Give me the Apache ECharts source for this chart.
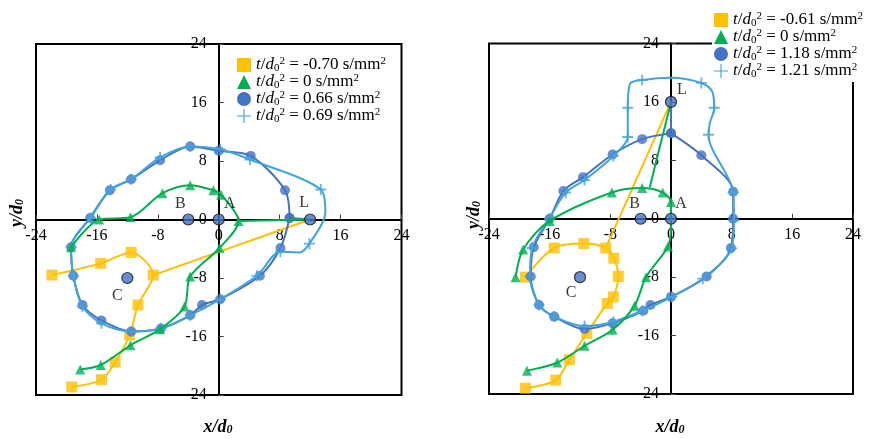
<!DOCTYPE html>
<html>
<head>
<meta charset="utf-8">
<script src="https://cdn.jsdelivr.net/npm/echarts@6/dist/echarts.min.js"></script>
<style>
  html, body { margin: 0; padding: 0; background: #fff; }
  #chart { width: 870px; height: 439px; }
</style>
</head>
<body>
<div id="chart"></div>
<script>
// ---- axis range shared by both panels ----
const axisMin = -24;
const axisMax = 24;
const axisStep = 8;

// ---- left panel: t/d0^2 values shown in the legend ----
const leftLegendValues = ['-0.70', '0', '0.66', '0.69'];

// drop trajectories (x/d0, y/d0)
const leftOrange = [[-21.9, -7.6], [-15.5, -6.0], [-11.5, -4.5], [-8.6, -7.6], [-10.6, -11.7],
  [-11.7, -15.8], [-13.6, -19.5], [-15.4, -21.9], [-19.3, -22.9]];
const leftOrangeLink = [[12, 0], [-8.6, -7.6]];

const leftGreen = [[-19.4, -3.8], [-15.7, 0], [-11.6, 0.3], [-7.4, 3.6], [-3.75, 4.7], [-0.7, 4.0],
  [0.3, 3.4], [2.6, -0.2], [0.1, -3.9], [-3.75, -7.8], [-4.5, -11.9], [-7.7, -15.0],
  [-11.6, -17.2], [-15.5, -19.9], [-18.2, -20.5]];
const leftGreenLink = [[2.6, -0.2], [12, 0]];

const leftBlue = [[9.3, 0.2], [8.7, 4.0], [4.2, 8.7], [0, 9.4], [-3.75, 10.0], [-7.7, 8.1],
  [-11.5, 5.5], [-14.3, 4.0], [-16.9, 0.2], [-19.4, -3.8], [-19.1, -7.7], [-17.9, -11.7],
  [-15.4, -13.8], [-11.5, -15.3], [-7.6, -14.9], [-3.75, -13.1], [-2.2, -11.7], [0.2, -10.9],
  [5.4, -7.7], [8.1, -3.9], [9.3, 0.2]];
const leftBlueLink = [[9.3, 0.2], [12, 0]];

const leftCyan = [[-16.8, 0.2], [-14.2, 4.1], [-11.5, 5.5], [-7.7, 8.5], [-3.75, 10.0], [0.2, 9.6],
  [4.1, 8.2], [13.4, 4.1], [11.9, -3.3], [8.1, -4.4], [5.0, -7.7], [0.2, -10.9], [-3.75, -13.1],
  [-7.6, -14.9], [-11.5, -15.3], [-15.4, -14.2], [-17.9, -11.9], [-19.1, -7.7], [-19.4, -3.8]];
const leftCyanPath = [[-16.8, 0.2], [-14.2, 4.1], [-11.5, 5.5], [-7.7, 8.5], [-3.75, 10.0], [0.2, 9.6],
  [4.1, 8.2], [13.4, 4.1], [14.0, 1.0], [11.9, -3.3], [10.6, -4.5], [8.1, -4.4], [5.0, -7.7],
  [0.2, -10.9], [-3.75, -13.1], [-7.6, -14.9], [-11.5, -15.3], [-15.4, -14.2], [-17.9, -11.9],
  [-19.1, -7.7], [-19.4, -3.8], [-16.8, 0.2]];

const leftMarks = [['A', 0, 0], ['B', -4, 0], ['C', -12, -8], ['L', 12, 0]];

// ---- right panel ----
const rightLegendValues = ['-0.61', '0', '1.18', '1.21'];

const rightOrange = [[-19.2, -8.0], [-15.4, -4.0], [-11.5, -3.4], [-8.6, -4.0], [-7.55, -5.4],
  [-6.95, -7.9], [-7.6, -10.7], [-8.4, -11.6], [-11.1, -15.7], [-13.4, -19.3], [-15.2, -22.1],
  [-19.2, -23.2]];
const rightOrangeLink = [[0, 16], [-8.6, -4.0]];

const rightGreen = [[-20.5, -8.0], [-19.5, -4.2], [-16.0, -0.3], [-7.8, 3.6], [-3.8, 4.2],
  [-1.1, 3.6], [0, 2.3], [-0.4, -3.8], [-3.3, -8.0], [-4.8, -11.9], [-7.7, -15.2],
  [-11.4, -17.4], [-15.0, -19.7], [-19.0, -20.8]];
const rightGreenPath = [[-20.5, -8.0], [-19.5, -4.2], [-16.0, -0.3], [-7.8, 3.6], [-3.8, 4.2],
  [-1.1, 3.6], [0, 2.3], [0, -1.0], [-0.4, -3.8], [-3.3, -8.0], [-4.8, -11.9], [-7.7, -15.2],
  [-11.4, -17.4], [-15.0, -19.7], [-19.0, -20.8]];
const rightGreenLink = [[0, 16], [-2.8, 4.3]];

const rightBlue = [[0, 11.7], [4.0, 8.7], [8.2, 3.7], [8.2, 0], [7.9, -4.0], [4.7, -7.9],
  [0, -10.7], [-2.7, -11.8], [-3.65, -12.6], [-7.7, -14.3], [-11.4, -15.1], [-15.4, -13.4],
  [-17.4, -11.8], [-18.5, -7.9], [-18.1, -3.9], [-16.0, 0], [-14.2, 3.8], [-11.6, 5.7],
  [-7.7, 8.8], [-3.8, 10.9], [0, 11.7]];
const rightBlueLink = [[0, 16], [0, 11.7]];

const rightCyan = [[-16.0, 0], [-13.9, 3.6], [-11.4, 5.3], [-7.6, 8.6], [-5.7, 11.2], [-5.7, 15.2],
  [-3.8, 19.0], [4.0, 18.6], [5.7, 15.2], [4.95, 11.5], [8.2, 3.6], [8.3, -0.2], [8.0, -4.05],
  [4.2, -8.2], [0.1, -10.7], [-3.8, -12.6], [-7.6, -14.1], [-11.4, -14.7], [-15.4, -13.4],
  [-17.4, -11.8], [-18.6, -7.9], [-18.3, -4.0]];
const rightCyanPath = [[-16.0, 0], [-13.9, 3.6], [-11.4, 5.3], [-7.6, 8.6], [-5.7, 11.2],
  [-5.7, 15.2], [-5.4, 18.5], [-3.8, 19.0], [0, 19.3], [4.0, 18.6], [5.4, 17.5], [5.7, 15.2],
  [5.1, 13.0], [4.95, 11.5], [8.2, 3.6], [8.3, -0.2], [8.0, -4.05], [4.2, -8.2], [0.1, -10.7],
  [-3.8, -12.6], [-7.6, -14.1], [-11.4, -14.7], [-15.4, -13.4], [-17.4, -11.8], [-18.6, -7.9],
  [-18.3, -4.0], [-16.0, 0]];

const rightMarks = [['A', 0, 0], ['B', -4, 0], ['C', -12, -8], ['L', 0, 16]];

// ---- styling ----
const SERIF = '"Liberation Serif", "Times New Roman", serif';
const ORANGE = '#FFC000';
const GREEN = '#00B050';
const BLUE = '#4472C4';
const CYAN = '#41A4DC';
const PLUS = 'path://M5,0h2v5h5v2h-5v5h-2v-5h-5v-2h5z';
const PLUS_THIN = 'path://M9,0h1.6v9h9v1.6h-9v9h-1.6v-9h-9v-1.6h9z';

const gridBoxes = [
  { left: 36, top: 44, width: 365.5, height: 351 },
  { left: 489, top: 43.5, width: 364, height: 350.5 }
];

const markOffsets = {
  left: { A: [11, -16], B: [-8, -16], C: [-10, 18], L: [-6, -17] },
  right: { A: [10, -15], B: [-6, -15], C: [-9, 16], L: [11, -12] }
};

// axes cross at the centre of each frame: shift them inward from the frame edges
function makeAxes(idx) {
  const box = gridBoxes[idx];
  const common = () => ({
    type: 'value', gridIndex: idx, min: axisMin, max: axisMax, interval: axisStep,
    axisLine: { onZero: false, lineStyle: { color: '#000', width: 2 } },
    axisTick: { inside: true, length: 5, lineStyle: { color: '#444', width: 1 } },
    splitLine: { show: false },
    axisLabel: { color: '#000', fontFamily: SERIF, fontSize: 16 }
  });
  const x = common();
  x.position = 'bottom';
  x.offset = -box.height / 2;
  x.axisLabel.margin = 8;
  const y = common();
  y.position = 'left';
  y.offset = -box.width / 2;
  y.axisLabel.margin = 12;
  return [x, y];
}

function curve(name, idx, data, color, z) {
  return { type: 'line', name, xAxisIndex: idx, yAxisIndex: idx, data, smooth: 0.3,
    symbol: 'none', lineStyle: { color, width: 2 }, itemStyle: { color }, z, silent: true };
}
function link(name, idx, data, color, z) {
  return { type: 'line', name, xAxisIndex: idx, yAxisIndex: idx, data, smooth: false,
    symbol: 'none', lineStyle: { color, width: 2 }, itemStyle: { color }, z, silent: true };
}
function dots(name, idx, data, color, symbol, size, z) {
  return { type: 'scatter', name, xAxisIndex: idx, yAxisIndex: idx, data, symbol,
    symbolSize: size, itemStyle: { color }, z, silent: true };
}
function special(idx, marks, side) {
  return {
    type: 'scatter', xAxisIndex: idx, yAxisIndex: idx, z: 8, silent: true,
    symbol: 'circle', symbolSize: 11,
    itemStyle: { color: BLUE, borderColor: '#111', borderWidth: 1.2 },
    data: marks.map(m => ({
      name: m[0], value: [m[1], m[2]],
      label: { show: true, position: 'inside', offset: markOffsets[side][m[0]],
        formatter: m[0], color: '#000', fontFamily: SERIF, fontSize: 16 }
    }))
  };
}

const legendRich = {
  i: { fontFamily: SERIF, fontStyle: 'italic', fontSize: 17, color: '#000', lineHeight: 18 },
  n: { fontFamily: SERIF, fontSize: 17, color: '#000', lineHeight: 18 },
  sub: { fontFamily: SERIF, fontSize: 11, color: '#000', verticalAlign: 'bottom', lineHeight: 12 },
  sup: { fontFamily: SERIF, fontSize: 11, color: '#000', verticalAlign: 'top', lineHeight: 12 }
};
function legendText(v) {
  return '{i|t}{n|/}{i|d}{sub|0}{sup|2}{n| = ' + v + ' s/mm}{sup|2}';
}
function makeLegend(prefix, values, left, top) {
  const names = values.map((v, k) => prefix + k);
  const icons = ['rect', 'triangle', 'circle', PLUS_THIN];
  const text = {};
  names.forEach((n, k) => { text[n] = legendText(values[k]); });
  return {
    orient: 'vertical', left, top, itemWidth: 14, itemHeight: 14, itemGap: -1,
    backgroundColor: '#fff', padding: [2, 3, 2, 2], selectedMode: false,
    data: names.map((n, k) => ({ name: n, icon: icons[k] })),
    formatter: n => text[n],
    textStyle: { rich: legendRich }
  };
}

function panel(prefix, idx, d) {
  return [
    curve(prefix + 0, idx, d.orange, ORANGE, 2),
    link(prefix + 0, idx, d.orangeLink, ORANGE, 2),
    dots(prefix + 0, idx, d.orange, ORANGE, 'rect', 11, 2),
    curve(prefix + 2, idx, d.bluePath, BLUE, 3),
    link(prefix + 2, idx, d.blueLink, BLUE, 3),
    dots(prefix + 2, idx, d.blue, BLUE, 'circle', 10, 3),
    curve(prefix + 3, idx, d.cyanPath, CYAN, 4),
    dots(prefix + 3, idx, d.cyan, CYAN, PLUS, 11, 4),
    curve(prefix + 1, idx, d.greenPath, GREEN, 5),
    link(prefix + 1, idx, d.greenLink, GREEN, 5),
    dots(prefix + 1, idx, d.green, GREEN, 'triangle', 10, 5)
  ];
}

const [lx, ly] = makeAxes(0);
const [rx, ry] = makeAxes(1);

const titleRich = {
  t: { fontFamily: SERIF, fontStyle: 'italic', fontWeight: 'bold', fontSize: 18, fill: '#000' },
  s: { fontFamily: SERIF, fontStyle: 'italic', fontWeight: 'bold', fontSize: 12, fill: '#000',
       verticalAlign: 'bottom' }
};
function axisTitle(txt, x, y, rot) {
  return { type: 'text', x, y, rotation: rot, z: 10,
    style: { text: '{t|' + txt + '}{s|0}', rich: titleRich, align: 'center', verticalAlign: 'middle' } };
}

const option = {
  animation: false,
  backgroundColor: '#fff',
  grid: gridBoxes.map(b => Object.assign({
    show: true, borderColor: '#000', borderWidth: 2, backgroundColor: 'transparent'
  }, b)),
  xAxis: [lx, rx],
  yAxis: [ly, ry],
  legend: [
    makeLegend('a', leftLegendValues, 235, 54),
    makeLegend('b', rightLegendValues, 712, 9)
  ],
  graphic: [
    axisTitle('x/d', 218, 427, 0),
    axisTitle('x/d', 670, 427, 0),
    axisTitle('y/d', 17, 213, Math.PI / 2),
    axisTitle('y/d', 474, 215, Math.PI / 2)
  ],
  series: [
    ...panel('a', 0, {
      orange: leftOrange, orangeLink: leftOrangeLink,
      green: leftGreen, greenPath: leftGreen, greenLink: leftGreenLink,
      blue: leftBlue, bluePath: leftBlue, blueLink: leftBlueLink,
      cyan: leftCyan, cyanPath: leftCyanPath
    }),
    special(0, leftMarks, 'left'),
    ...panel('b', 1, {
      orange: rightOrange, orangeLink: rightOrangeLink,
      green: rightGreen, greenPath: rightGreenPath, greenLink: rightGreenLink,
      blue: rightBlue, bluePath: rightBlue, blueLink: rightBlueLink,
      cyan: rightCyan, cyanPath: rightCyanPath
    }),
    special(1, rightMarks, 'right')
  ]
};

echarts.init(document.getElementById('chart'), null, { renderer: 'canvas' }).setOption(option);
</script>
</body>
</html>
